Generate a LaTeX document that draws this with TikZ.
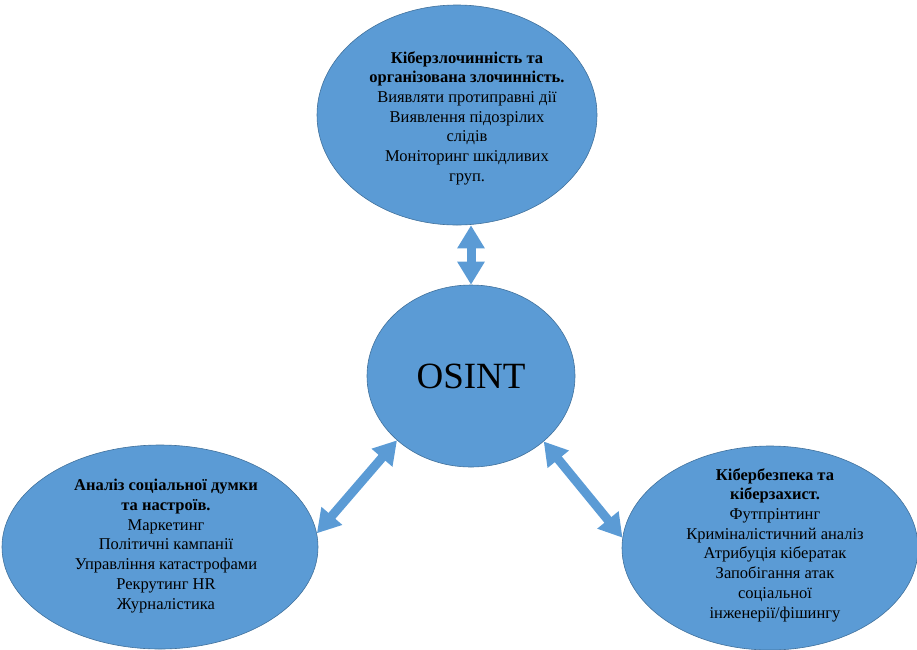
\documentclass[tikz,border=0pt]{standalone}
\usepackage{fontspec}
\setmainfont{Liberation Serif}
\usetikzlibrary{arrows.meta,shapes.geometric}
\definecolor{bubfill}{HTML}{5B9BD5}
\definecolor{bubline}{HTML}{41719C}
\tikzset{
  bub/.style={ellipse, fill=bubfill, draw=bubline, line width=0.6pt, inner sep=0pt},
  txt/.style={align=center, font=\fontsize{16.5}{19.7}\selectfont, text=black},
  blockarrow/.style={draw=bubfill, line width=9pt,
    {Triangle[length=23pt,width=26pt]}-{Triangle[length=23pt,width=26pt]}},
}
\begin{document}
\begin{tikzpicture}[x=1pt,y=-1pt]
\useasboundingbox (0,0) rectangle (917,649);
% ellipses
\node[bub, minimum width=280pt, minimum height=220pt] (top) at (457,115) {};
\node[bub, minimum width=208pt, minimum height=182pt] (osint) at (471,376) {};
\node[bub, minimum width=316pt, minimum height=204pt] (left) at (160,547) {};
\node[bub, minimum width=296pt, minimum height=204pt] (right) at (770,548) {};
% texts
\node[txt] (toptxt) at ([xshift=10pt,yshift=-3pt]top.center) {\textbf{Кіберзлочинність та}\\\textbf{організована злочинність.}\\Виявляти протиправні дії\\Виявлення підозрілих\\слідів\\Моніторинг шкідливих\\груп.};
\node[font=\fontsize{37}{42}\selectfont] (osinttxt) at (osint) {OSINT};
\node[txt] (lefttxt) at ([xshift=6pt,yshift=1pt]left.center) {\textbf{Аналіз соціальної думки}\\\textbf{та настроїв.}\\Маркетинг\\Політичні кампанії\\Управління катастрофами\\Рекрутинг HR\\Журналістика};
\node[txt] (righttxt) at ([xshift=5pt,yshift=3pt]right.center) {\textbf{Кібербезпека та}\\\textbf{кіберзахист.}\\Футпрінтинг\\Криміналістичний аналіз\\Атрибуція кібератак\\Запобігання атак\\соціальної\\інженерії/фішингу};
% arrows
\draw[blockarrow] (osint.north) -- (osint.north |- top.south);
\draw[blockarrow] (osint.221) -- (left.5);
\draw[blockarrow] (osint.318) -- (right.176);
\end{tikzpicture}
\end{document}
